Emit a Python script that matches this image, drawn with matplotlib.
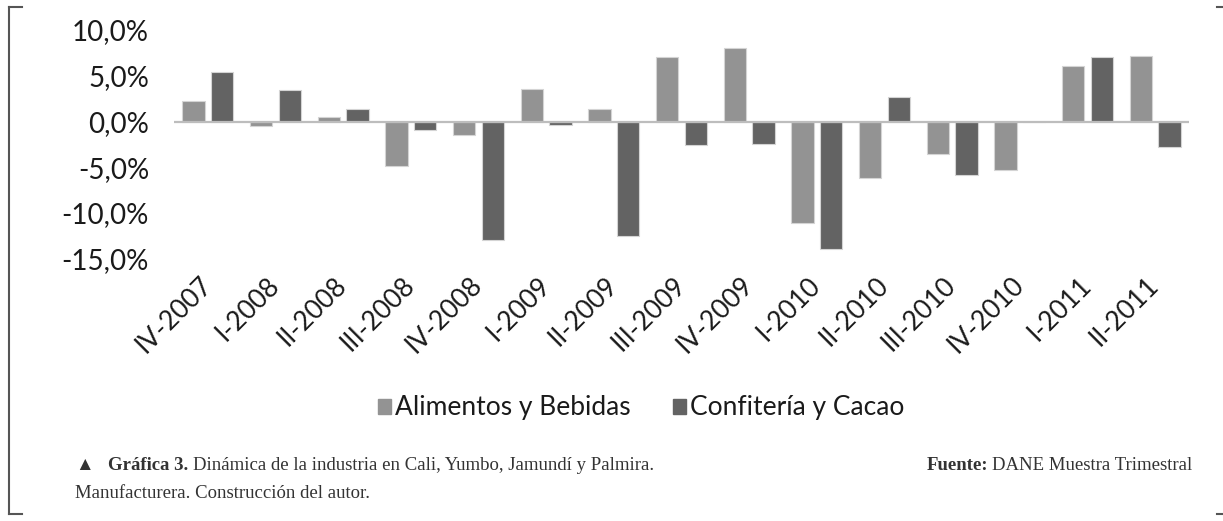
import matplotlib.pyplot as plt
from matplotlib.lines import Line2D
import numpy as np

trimestres = ["IV-2007", "I-2008", "II-2008", "III-2008", "IV-2008", "I-2009",
              "II-2009", "III-2009", "IV-2009", "I-2010", "II-2010", "III-2010",
              "IV-2010", "I-2011", "II-2011"]
alimentos = [2.2, -0.45, 0.5, -4.9, -1.5, 3.6, 1.4, 7.1, 8.0, -11.1, -6.2, -3.6, -5.3, 6.1, 7.2]
confiteria = [5.4, 3.4, 1.4, -0.9, -12.9, -0.35, -12.5, -2.6, -2.5, -13.9, 2.7, -5.9, 0.0, 7.0, -2.8]
y_ticks = [10, 5, 0, -5, -10, -15]

col_alim = "#939393"
col_conf = "#636363"
sans = ["Lato", "DejaVu Sans"]
serif = ["Liberation Serif", "DejaVu Sans"]

fig = plt.figure(figsize=(12.23, 5.21), dpi=100)
ax = fig.add_axes([174 / 1223, 1 - 258.75 / 521, (1189 - 174) / 1223, (258.75 - 30) / 521])

x = np.arange(len(trimestres))
w = 0.33
off = 0.214
ax.bar(x - off, alimentos, w, color=col_alim, edgecolor="#d4d4d4", linewidth=0.8, zorder=2)
ax.bar(x + off, confiteria, w, color=col_conf, edgecolor="#d4d4d4", linewidth=0.8, zorder=2)
ax.axhline(0, color="#bdbdbd", lw=1.6, zorder=3)

ax.set_xlim(-0.5, len(trimestres) - 0.5)
ax.set_ylim(-15, 10)
ax.set_yticks(y_ticks)
ax.set_yticklabels([f"{v:.1f}%".replace(".", ",") for v in y_ticks], family=sans, fontsize=20,
                   color="#1a1a1a")
ax.set_xticks(x)
ax.set_xticklabels(trimestres, rotation=45, ha="right", va="center", rotation_mode="anchor",
                   family=sans, fontsize=19, color="#1a1a1a")
ax.tick_params(axis="y", length=0, pad=18)
ax.tick_params(axis="x", length=0, pad=16)
for s in ax.spines.values():
    s.set_visible(False)

handles = [plt.Rectangle((0, 0), 1, 1, color=col_alim), plt.Rectangle((0, 0), 1, 1, color=col_conf)]
fig.legend(handles, ["Alimentos y Bebidas", "Confitería y Cacao"], loc="center",
           bbox_to_anchor=(641 / 1223, 1 - 408 / 521), ncol=2, frameon=False,
           prop={"family": sans, "size": 19}, handlelength=0.5, handleheight=0.5,
           handletextpad=0.15, columnspacing=1.6, labelcolor="#1a1a1a")

# marco
fc = "#555555"
fig.add_artist(Line2D([9 / 1223, 9 / 1223], [1 - 7 / 521, 1 - 514 / 521], color=fc, lw=1.5))
fig.add_artist(Line2D([9 / 1223, 22 / 1223], [1 - 7 / 521, 1 - 7 / 521], color=fc, lw=1.5))
fig.add_artist(Line2D([9 / 1223, 22 / 1223], [1 - 514 / 521, 1 - 514 / 521], color=fc, lw=1.5))
fig.add_artist(Line2D([1217 / 1223, 1223 / 1223], [1 - 7 / 521, 1 - 7 / 521], color=fc, lw=1.5))
fig.add_artist(Line2D([1217 / 1223, 1223 / 1223], [1 - 514 / 521, 1 - 514 / 521], color=fc, lw=1.5))

# pie de figura
tc = "#333333"
cs = 13.5
renderer = fig.canvas.get_renderer()
y1 = 1 - 466 / 521
y2 = 1 - 493 / 521
xp = 75 / 1223
parts = [("▲", "normal", 14 / 1223), ("Gráfica 3.", "bold", 5 / 1223),
         ("Dinámica de la industria en Cali, Yumbo, Jamundí y Palmira.", "normal", 0)]
for txt, wt, gap in parts:
    t = fig.text(xp, y1, txt, family=serif, fontsize=cs, weight=wt, color=tc, va="center")
    bb = t.get_window_extent(renderer)
    xp = bb.x1 / 1223 + gap
fig.text(75 / 1223, y2, "Manufacturera. Construcción del autor.", family=serif, fontsize=cs,
         color=tc, va="center")
t2 = fig.text(1192 / 1223, y1, "DANE Muestra Trimestral", family=serif, fontsize=cs,
              color=tc, va="center", ha="right")
bb = t2.get_window_extent(renderer)
fig.text(bb.x0 / 1223 - 4 / 1223, y1, "Fuente:", family=serif, fontsize=cs, weight="bold",
         color=tc, va="center", ha="right")

fig.savefig("out.png", dpi=100)
